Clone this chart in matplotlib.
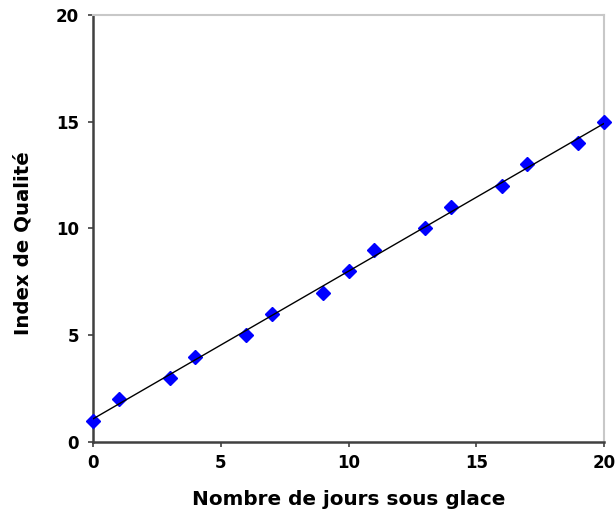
import matplotlib.pyplot as plt
import numpy as np

plt.rcParams['font.family'] = ['DejaVu Sans']

days = [0, 1, 3, 4, 6, 7, 9, 10, 11, 13, 14, 16, 17, 19, 20]
quality = [1, 2, 3, 4, 5, 6, 7, 8, 9, 10, 11, 12, 13, 14, 15]
x_ticks = [0, 5, 10, 15, 20]
y_ticks = [0, 5, 10, 15, 20]


def main() -> None:
    fig = plt.figure(figsize=(6.16, 5.16), dpi=100)
    ax = fig.add_axes([0.151, 0.1434, 0.8295, 0.8276])

    x = np.array(days, dtype=float)
    y = np.array(quality, dtype=float)
    slope, intercept = np.polyfit(x, y, 1)
    xs = np.array([x.min(), x.max()])

    ax.plot(x, y, linestyle='none', marker='D', markersize=6.8,
            color='#0000ff', zorder=3, clip_on=False)
    ax.plot(xs, slope * xs + intercept, color='black', lw=1.0, zorder=4)

    ax.set_xlim(0, 20)
    ax.set_ylim(0, 20)
    ax.set_xticks(x_ticks)
    ax.set_yticks(y_ticks)
    ax.tick_params(direction='out', length=3.5, width=1.2, color='#404040',
                   labelsize=12)
    ax.tick_params(axis='x', pad=5)
    ax.tick_params(axis='y', pad=6.5)
    for lab in ax.get_xticklabels() + ax.get_yticklabels():
        lab.set_fontweight('bold')

    for side in ('left', 'bottom'):
        ax.spines[side].set_color('#404040')
        ax.spines[side].set_linewidth(1.8)
    for side in ('top', 'right'):
        ax.spines[side].set_color('#c8c8c8')
        ax.spines[side].set_linewidth(1.5)

    ax.set_xlabel('Nombre de jours sous glace', fontsize=14.4,
                  fontweight='bold', labelpad=13)
    ax.set_ylabel('Index de Qualité', fontsize=14.2, fontweight='bold')
    ax.yaxis.set_label_coords(-0.118, 0.465)

    fig.savefig('out.png', dpi=100)
    plt.close(fig)


if __name__ == '__main__':
    main()
